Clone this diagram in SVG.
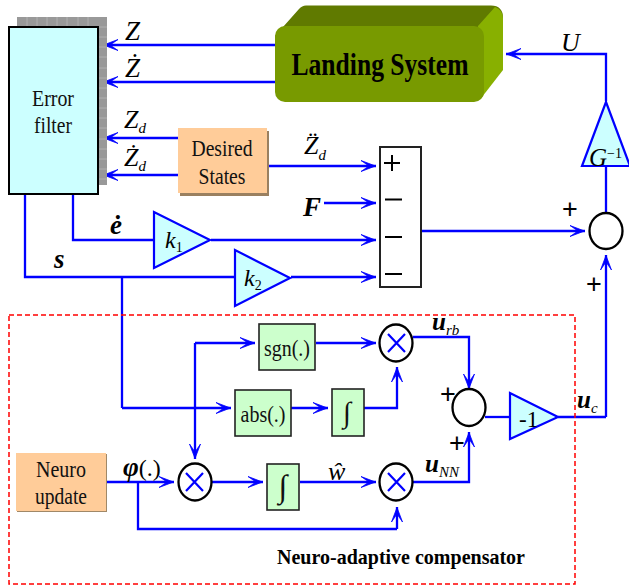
<svg xmlns="http://www.w3.org/2000/svg" width="629" height="586" viewBox="0 0 629 586">
<style>
text{font-family:"Liberation Serif","Times New Roman",serif;fill:#000}
.c{stroke:#0000ff;stroke-width:2.300;fill:none}
.a{marker-end:url(#arr)}
.tri{fill:#ccffff;stroke:#0000ff;stroke-width:2.200}
.g{fill:#ccffcc;stroke:#222;stroke-width:1.600}
.o{fill:#fff;stroke:#000;stroke-width:2.300}
.x{stroke:#0000ff;stroke-width:2.200}
.lb{font-size:23px;text-anchor:middle;fill:#111}
.m{font-size:27px;font-style:italic;font-weight:bold}
.s{font-size:15px;font-style:italic}
.sg{font-family:"Liberation Sans",sans-serif;font-size:27px;text-anchor:middle}
.grid{stroke:#bbb;stroke-width:.7}
</style>
<defs>
<marker id="arr" markerUnits="userSpaceOnUse" markerWidth="20" markerHeight="16" refX="16" refY="7" orient="auto">
<path d="M1,1.500 L15.500,7 L1,12.500 L9,7 Z" fill="#0000ff" stroke="#0000ff" stroke-width="0.800"/>
</marker>
</defs>

<g id="connectors">
<path class="c a" d="M275,45H103"/>
<path class="c a" d="M275,82H103"/>
<path class="c a" d="M178,138H103"/>
<path class="c a" d="M178,175H103"/>
<path class="c" d="M73,194V240H154"/>
<path class="c" d="M25,194V277H235"/>
<path class="c a" d="M211,240H376"/>
<path class="c a" d="M291,277H376"/>
<path class="c a" d="M269,166H376"/>
<path class="c a" d="M324,203H376"/>
<path class="c a" d="M421,231H585"/>
<path class="c" d="M606,212V166"/>
<path class="c a" d="M606,101V54H506"/>
<path class="c a" d="M606,417V255"/>
<path class="c" d="M122,277V408"/>
<path class="c a" d="M122,408H231"/>
<path class="c a" d="M291,408H328"/>
<path class="c a" d="M195,343H255"/>
<path class="c a" d="M195,343V459"/>
<path class="c a" d="M106,482H174"/>
<path class="c a" d="M212,482H263"/>
<path class="c a" d="M300,482H376"/>
<path class="c" d="M138,482V529H397"/>
<path class="c a" d="M397,529V507"/>
<path class="c a" d="M316,343H376"/>
<path class="c a" d="M364,408H397V367"/>
<path class="c a" d="M413,337H469V389"/>
<path class="c a" d="M413,482H469V432"/>
<path class="c" d="M485,417H510"/>
<path class="c" d="M558,417H606"/>
</g>

<g id="error-filter">
<rect x="17" y="17" width="90" height="168" fill="#999"/>
<path class="grid" d="M27,17V27M37,17V27M47,17V27M57,17V27M67,17V27M78,17V27M88,17V27M98,27H107M98,37H107M98,47H107M98,57H107M98,68H107M98,78H107M98,88H107M98,98H107M98,108H107M98,118H107M98,128H107M98,139H107M98,149H107M98,159H107M98,169H107M98,179H107"/>
<rect x="9" y="27" width="89" height="167" fill="#ccffff" stroke="#000" stroke-width="2"/>
<text class="lb" x="53" y="106" textLength="42" lengthAdjust="spacingAndGlyphs">Error</text>
<text class="lb" x="53" y="133" textLength="38" lengthAdjust="spacingAndGlyphs">filter</text>
</g>

<g id="landing-system">
<path d="M275,36 L299,9 Q302,5.500 306,5.500 H491 Q503,5.500 503,18 V40 H290Z" fill="#607a00"/>
<path d="M478,26 L495,7 Q503,10 503,18 V70 L482,97 L478,60Z" fill="#88b000"/>
<rect x="275" y="26" width="209" height="76" rx="10" fill="#789a00"/>
<text x="380" y="75" font-size="31" font-weight="bold" text-anchor="middle" textLength="177" lengthAdjust="spacingAndGlyphs">Landing System</text>
</g>

<g id="desired-states">
<rect x="180" y="131" width="89" height="65" fill="#9a8060"/>
<rect x="178" y="128" width="89" height="65" fill="#ffcc99"/>
<text class="lb" x="222" y="156" textLength="61" lengthAdjust="spacingAndGlyphs">Desired</text>
<text class="lb" x="222" y="184" textLength="47" lengthAdjust="spacingAndGlyphs">States</text>
</g>

<g id="k1">
<polygon class="tri" points="154,212 154,268 210,240"/>
<text x="165" y="248" font-size="24" font-style="italic">k<tspan font-size="14" font-style="normal" dy="4">1</tspan></text>
</g>
<g id="k2">
<polygon class="tri" points="235,250 235,306 290,278"/>
<text x="244" y="286" font-size="24" font-style="italic">k<tspan font-size="14" font-style="normal" dy="4">2</tspan></text>
</g>

<g id="sum-block">
<rect x="380" y="147" width="41" height="140" fill="#fff" stroke="#222" stroke-width="2"/>
<path d="M384,163H400M392,155V171M385,199.500H402M385,237H402M385,274H402" stroke="#000" stroke-width="2" fill="none"/>
</g>

<g id="g-inverse">
<polygon class="tri" points="606,102 582,166 630,166"/>
<text x="589" y="166" font-size="25" font-style="italic">G<tspan font-size="14" font-style="normal" dy="-8">−1</tspan></text>
</g>

<g id="sum-top"><ellipse class="o" cx="606" cy="231" rx="16.500" ry="18"/></g>
<g id="sum-inner"><ellipse class="o" cx="469" cy="407.500" rx="16.500" ry="18.500"/></g>

<g id="gain-minus1">
<polygon class="tri" points="510,393 510,439 558,417"/>
<text x="519" y="427" font-size="23" fill="#111">-1</text>
</g>

<g id="sgn"><rect class="g" x="259" y="324" width="56" height="46"/><text class="lb" x="287" y="356" textLength="46" lengthAdjust="spacingAndGlyphs">sgn(.)</text></g>
<g id="abs"><rect class="g" x="235" y="390" width="56" height="46"/><text class="lb" x="263" y="422" textLength="45" lengthAdjust="spacingAndGlyphs">abs(.)</text></g>
<g id="int-upper"><rect class="g" x="332" y="389" width="32" height="47"/><text class="lb" x="347" y="422" style="font-size:29px">∫</text></g>
<g id="int-lower"><rect class="g" x="267" y="464" width="32" height="46"/><text class="lb" x="283" y="497" style="font-size:32px">∫</text></g>

<g id="mult-rb"><ellipse class="o" cx="396" cy="343" rx="16.500" ry="18.500"/><path class="x" d="M388,334L405,352M405,334L388,352"/></g>
<g id="mult-nn"><ellipse class="o" cx="396" cy="482" rx="16.500" ry="18.500"/><path class="x" d="M388,473L405,491M405,473L388,491"/></g>
<g id="mult-phi"><ellipse class="o" cx="195" cy="482" rx="16.500" ry="18.500"/><path class="x" d="M186,473L203,491M203,473L186,491"/></g>

<g id="neuro-update">
<rect x="17" y="454" width="90" height="58" fill="#a08868"/>
<rect x="16" y="453" width="90" height="58" fill="#ffcc99"/>
<text class="lb" x="61" y="477" textLength="50" lengthAdjust="spacingAndGlyphs">Neuro</text>
<text class="lb" x="61" y="504" textLength="52" lengthAdjust="spacingAndGlyphs">update</text>
</g>

<g id="compensator">
<rect x="9" y="315" width="566" height="269" fill="none" stroke="#ff0000" stroke-width="1.500" stroke-dasharray="5,3"/>
<text x="277" y="564" font-size="21" font-weight="bold" textLength="248" lengthAdjust="spacingAndGlyphs">Neuro-adaptive compensator</text>
</g>

<g id="labels">
<text x="125" y="40" font-size="27" font-style="italic">Z</text>
<text x="125" y="77" font-size="27" font-style="italic">Ż</text>
<text x="124" y="128" font-size="26" font-style="italic">Z<tspan class="s" dy="5">d</tspan></text>
<text x="124" y="166" font-size="26" font-style="italic">Ż<tspan class="s" dy="5">d</tspan></text>
<text x="304" y="154" font-size="26" font-style="italic">Z̈<tspan class="s" dy="6">d</tspan></text>
<text x="303" y="216" class="m">F</text>
<text x="110" y="234" class="m">ė</text>
<text x="54" y="268" class="m">s</text>
<text x="561" y="51" font-size="26" font-style="italic">U</text>
<text class="sg" x="570" y="218">+</text>
<text class="sg" x="594" y="293">+</text>
<text class="sg" x="448" y="403">+</text>
<text class="sg" x="457" y="452">+</text>
<text x="123" y="476" font-size="27" font-style="italic" font-weight="bold">φ<tspan font-style="normal" font-weight="normal" font-size="24">(.)</tspan></text>
<text x="328" y="480" font-size="26" font-style="italic">ŵ</text>
<text x="432" y="330" font-size="25" font-style="italic" font-weight="bold">u<tspan font-size="15" font-weight="normal" dy="5">rb</tspan></text>
<text x="425" y="472" font-size="25" font-style="italic" font-weight="bold">u<tspan font-size="15" font-weight="normal" dy="5">NN</tspan></text>
<text x="577" y="408" font-size="25" font-style="italic" font-weight="bold">u<tspan font-size="15" font-weight="normal" dy="5">c</tspan></text>
</g>
</svg>
